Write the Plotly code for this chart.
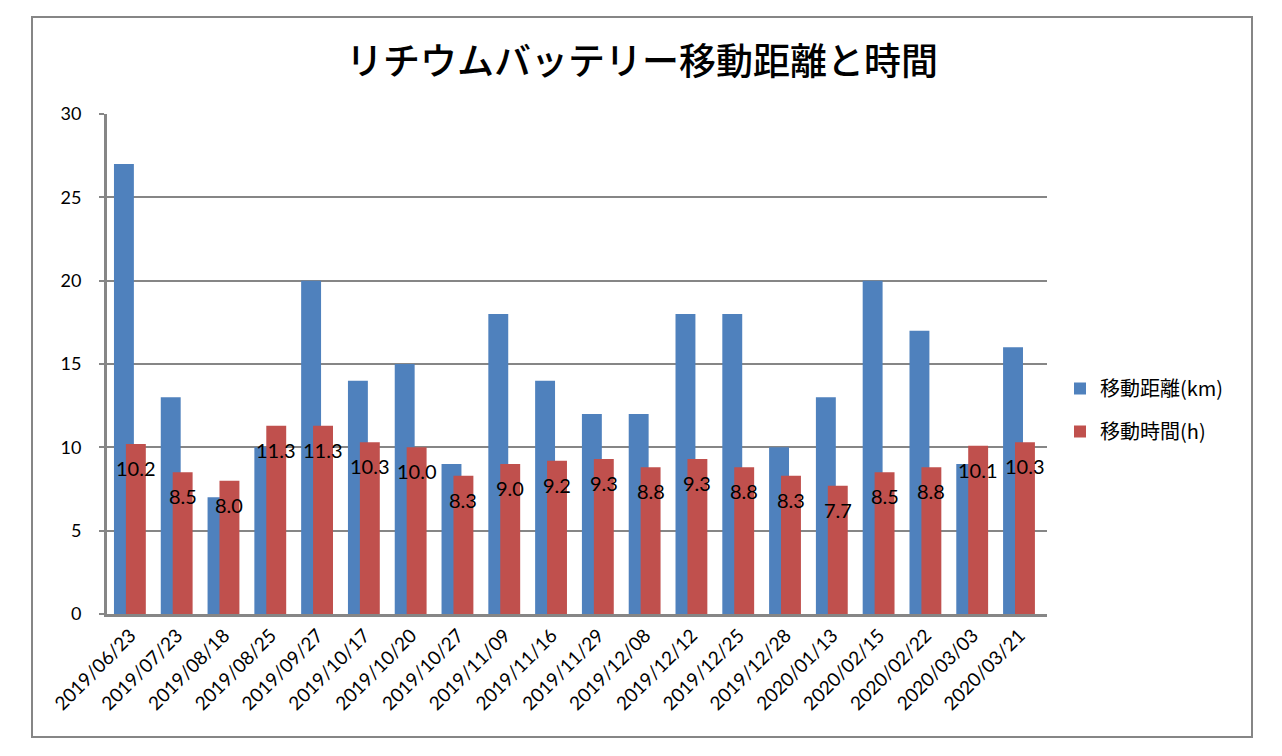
import plotly.graph_objects as go

dates = ["2019/06/23", "2019/07/23", "2019/08/18", "2019/08/25", "2019/09/27",
         "2019/10/17", "2019/10/20", "2019/10/27", "2019/11/09", "2019/11/16",
         "2019/11/29", "2019/12/08", "2019/12/12", "2019/12/25", "2019/12/28",
         "2020/01/13", "2020/02/15", "2020/02/22", "2020/03/03", "2020/03/21"]
distance_km = [27, 13, 7, 10, 20, 14, 15, 9, 18, 14, 12, 12, 18, 18, 10, 13, 20, 17, 9, 16]
time_h = [10.2, 8.5, 8.0, 11.3, 11.3, 10.3, 10.0, 8.3, 9.0, 9.2, 9.3, 8.8, 9.3, 8.8, 8.3, 7.7, 8.5, 8.8, 10.1, 10.3]

title_text = "リチウムバッテリー移動距離と時間"
name_dist = "移動距離(km)"
name_time = "移動時間(h)"

BLUE = "#4F81BD"
RED = "#C0504D"
GRID = "#868686"
LATIN = "Lato, 'Noto Sans CJK JP', sans-serif"
CJK = "'Noto Sans CJK JP', sans-serif"

# page body has an 8px margin; lay the figure out in page coordinates minus 8
OFF = 8
W, H = 1282 - OFF, 756 - OFF
L, T = 107 - OFF, 114 - OFF
pw, ph = 940, 500
R, B = W - L - pw, H - T - ph

def px(xpage):
    return (xpage - OFF - L) / pw

def py(ypage):
    return (T + ph - (ypage - OFF)) / ph

fig = go.Figure()
fig.add_trace(go.Bar(x=dates, y=distance_km, name=name_dist, marker_color=BLUE,
                     marker_line_width=0, width=0.4255, offset=-0.351,
                     legendgroup="a"))
fig.add_trace(go.Bar(x=dates, y=time_h, name=name_time, marker_color=RED,
                     marker_line_width=0, width=0.4255, offset=-0.096,
                     legendgroup="b"))

for d, v in zip(dates, time_h):
    fig.add_annotation(x=d, y=v, text=f"{v:.1f}", showarrow=False,
                       xshift=5.5, yshift=-24, yanchor="middle",
                       font=dict(family=LATIN, size=20, color="black"))

# outer chart border
fig.add_shape(type="rect", xref="paper", yref="paper",
              x0=px(32), x1=px(1252), y0=py(737), y1=py(17),
              line=dict(color=GRID, width=2), fillcolor="rgba(0,0,0,0)", layer="below")

fig.update_layout(
    width=W, height=H,
    margin=dict(l=L, r=R, t=T, b=B, pad=0),
    paper_bgcolor="white", plot_bgcolor="white",
    barmode="overlay",
    title=dict(text=title_text, x=(642 - OFF) / W, xref="container", xanchor="center",
               y=1 - (62 - OFF) / H, yref="container", yanchor="middle",
               font=dict(family=CJK, size=37, color="black", weight=500)),
    legend=dict(x=px(1060), xanchor="left", y=py(410), yanchor="middle",
                font=dict(family=CJK, size=20, color="black"),
                traceorder="grouped", tracegroupgap=14, bgcolor="rgba(0,0,0,0)"),
    showlegend=True,
)
fig.update_xaxes(type="category", showline=True, linecolor=GRID, linewidth=3,
                 showgrid=False, tickangle=-45, ticks="",
                 tickfont=dict(family=LATIN, size=19, color="black"))
fig.update_yaxes(range=[0, 30], dtick=5, showline=True, linecolor=GRID, linewidth=3,
                 showgrid=True, gridcolor=GRID, gridwidth=2, zeroline=False,
                 ticks="outside", ticklen=5, tickcolor=GRID, tickwidth=2,
                 ticklabelstandoff=14,
                 tickfont=dict(family=LATIN, size=18, color="black"))

fig.write_html("out.html")
